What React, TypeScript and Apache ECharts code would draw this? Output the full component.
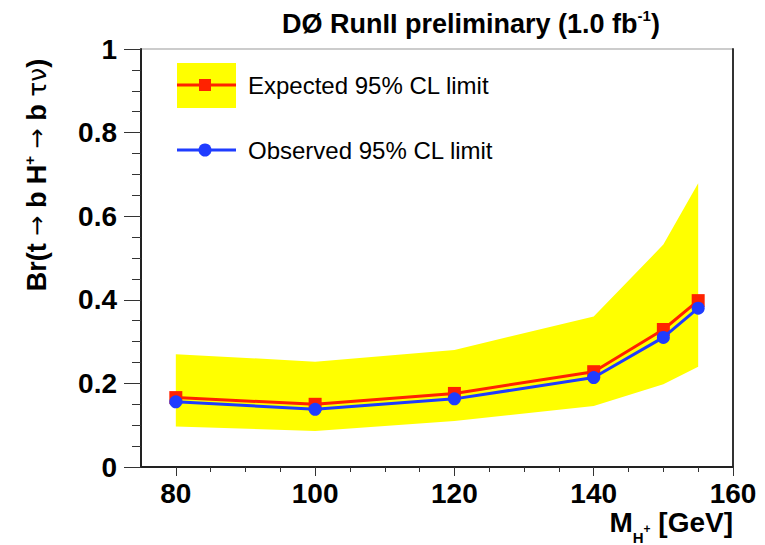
import React, { useEffect, useRef } from 'react';
import * as echarts from 'echarts';

const masses = [80, 100, 120, 140, 150, 155];
const expected = [0.166, 0.150, 0.176, 0.228, 0.329, 0.398];
const observed = [0.156, 0.138, 0.163, 0.214, 0.310, 0.380];
const bandLow = [0.097, 0.086, 0.110, 0.146, 0.198, 0.240];
const bandHigh = [0.270, 0.252, 0.280, 0.360, 0.532, 0.679];
const xMajorTicks = [80, 100, 120, 140, 160];
const xMinorTicks = [85, 90, 95, 105, 110, 115, 125, 130, 135, 145, 150, 155];

const FONT = "'Liberation Sans', Arial, Helvetica, sans-serif";
const SYM = "'DejaVu Sans', sans-serif";
const YELLOW = '#ffff00';
const RED = '#ff2200';
const BLUE = '#1f3cff';

export default function App() {
  const ref = useRef<HTMLDivElement>(null);
  useEffect(() => {
    if (!ref.current) return;
    const chart = echarts.init(ref.current, null, { renderer: 'svg' });
    const option: any = {
      animation: false,
      backgroundColor: '#ffffff',
      grid: {
        left: 141, right: 32, top: 49, bottom: 78,
        show: true, borderColor: '#999', borderWidth: 1, backgroundColor: 'transparent',
      },
      xAxis: [
        {
          type: 'value', min: 75, max: 160, position: 'bottom',
          axisLine: { show: true, onZero: false, lineStyle: { color: '#222', width: 2 } },
          axisTick: { show: true, customValues: xMajorTicks, length: 9, lineStyle: { color: '#333', width: 1 } },
          axisLabel: { customValues: xMajorTicks, margin: 12, fontSize: 28, fontWeight: 'bold', color: '#000', fontFamily: FONT },
          splitLine: { show: false },
        },
        {
          type: 'value', min: 75, max: 160, position: 'bottom',
          axisLine: { show: false },
          axisTick: { show: true, customValues: xMinorTicks, length: 5, lineStyle: { color: '#333', width: 1 } },
          axisLabel: { show: false },
          splitLine: { show: false },
        },
      ],
      yAxis: [
        {
          type: 'value', min: 0, max: 1, interval: 0.2, position: 'left',
          axisLine: { show: true, onZero: false, lineStyle: { color: '#222', width: 2 } },
          axisTick: { show: true, length: 17, lineStyle: { color: '#333', width: 1 } },
          minorTick: { show: true, splitNumber: 4, length: 9, lineStyle: { color: '#333', width: 1 } },
          axisLabel: { margin: 24, fontSize: 28, fontWeight: 'bold', color: '#000', fontFamily: FONT },
          splitLine: { show: false },
          minorSplitLine: { show: false },
        },
        {
          type: 'value', min: 0, max: 1, position: 'right',
          axisLine: { show: true, onZero: false, lineStyle: { color: '#333', width: 2 } },
          axisTick: { show: false },
          axisLabel: { show: false },
          splitLine: { show: false },
        },
      ],
      series: [
        {
          type: 'custom',
          xAxisIndex: 0, yAxisIndex: 0,
          silent: true,
          z: 1,
          data: masses.map((m, i) => [m, bandLow[i], bandHigh[i]]),
          encode: { x: 0, y: [1, 2] },
          renderItem: (params: any, api: any) => {
            if (params.dataIndex !== 0) return { type: 'group', children: [] };
            const top = masses.map((m, i) => api.coord([m, bandHigh[i]]));
            const bot = masses.map((m, i) => api.coord([m, bandLow[i]])).reverse();
            return { type: 'polygon', shape: { points: top.concat(bot) }, style: { fill: YELLOW } };
          },
        },
        {
          type: 'line', name: 'Expected 95% CL limit',
          xAxisIndex: 0, yAxisIndex: 0, z: 3,
          data: masses.map((m, i) => [m, expected[i]]),
          symbol: 'rect', symbolSize: 13, showAllSymbol: true,
          itemStyle: { color: RED }, lineStyle: { color: RED, width: 3 },
        },
        {
          type: 'line', name: 'Observed 95% CL limit',
          xAxisIndex: 0, yAxisIndex: 0, z: 4,
          data: masses.map((m, i) => [m, observed[i]]),
          symbol: 'circle', symbolSize: 13, showAllSymbol: true,
          itemStyle: { color: BLUE }, lineStyle: { color: BLUE, width: 3 },
        },
      ],
      graphic: [
        {
          type: 'text', x: 282, y: 24,
          style: {
            text: '{t|DØ RunII preliminary (1.0 fb}{s|-1}{t|)}',
            textAlign: 'left', textVerticalAlign: 'middle',
            rich: {
              t: { fontSize: 27, fontWeight: 'bold', fontFamily: FONT, fill: '#000' },
              s: { fontSize: 15, fontWeight: 'bold', fontFamily: FONT, fill: '#000', padding: [0, 0, 18, 0] },
            },
          },
        },
        {
          type: 'text', x: 37, y: 175, rotation: Math.PI / 2,
          style: {
            text: '{b|Br(t }{a|→}{b| b H}{s|+}{b| }{a|→}{b| b }{g|τν}{b|)}',
            textAlign: 'center', textVerticalAlign: 'middle',
            rich: {
              b: { fontSize: 27, fontWeight: 'bold', fontFamily: FONT, fill: '#000' },
              a: { fontSize: 24, fontWeight: 'normal', fontFamily: SYM, fill: '#000' },
              s: { fontSize: 15, fontWeight: 'bold', fontFamily: FONT, fill: '#000', padding: [0, 0, 16, 0] },
              g: { fontSize: 25, fontWeight: 'normal', fontFamily: SYM, fill: '#000' },
            },
          },
        },
        {
          type: 'text', x: 733, y: 522,
          style: {
            text: '{m|M}{h|H}{p|+}{m| [GeV]}',
            textAlign: 'right', textVerticalAlign: 'middle',
            rich: {
              m: { fontSize: 28, fontWeight: 'bold', fontFamily: FONT, fill: '#000' },
              h: { fontSize: 15, fontWeight: 'bold', fontFamily: FONT, fill: '#000', padding: [30, 0, 0, 0] },
              p: { fontSize: 12, fontWeight: 'bold', fontFamily: FONT, fill: '#000', padding: [14, 0, 0, 0] },
            },
          },
        },
        { type: 'rect', shape: { x: 177, y: 63, width: 59, height: 45 }, style: { fill: YELLOW } },
        { type: 'line', shape: { x1: 177, y1: 85, x2: 236, y2: 85 }, style: { stroke: RED, lineWidth: 3 } },
        { type: 'rect', shape: { x: 199, y: 79, width: 12, height: 12 }, style: { fill: RED } },
        {
          type: 'text', x: 248, y: 85,
          style: { text: 'Expected 95% CL limit', fontSize: 24, fontFamily: FONT, fill: '#000', textAlign: 'left', textVerticalAlign: 'middle' },
        },
        { type: 'line', shape: { x1: 177, y1: 150, x2: 236, y2: 150 }, style: { stroke: BLUE, lineWidth: 3 } },
        { type: 'circle', shape: { cx: 205, cy: 150, r: 6.5 }, style: { fill: BLUE } },
        {
          type: 'text', x: 248, y: 150,
          style: { text: 'Observed 95% CL limit', fontSize: 24, fontFamily: FONT, fill: '#000', textAlign: 'left', textVerticalAlign: 'middle' },
        },
      ],
    };
    chart.setOption(option);
    return () => chart.dispose();
  }, []);
  return <div ref={ref} style={{ position: 'fixed', left: 0, top: 0, width: 765, height: 545 }} />;
}
